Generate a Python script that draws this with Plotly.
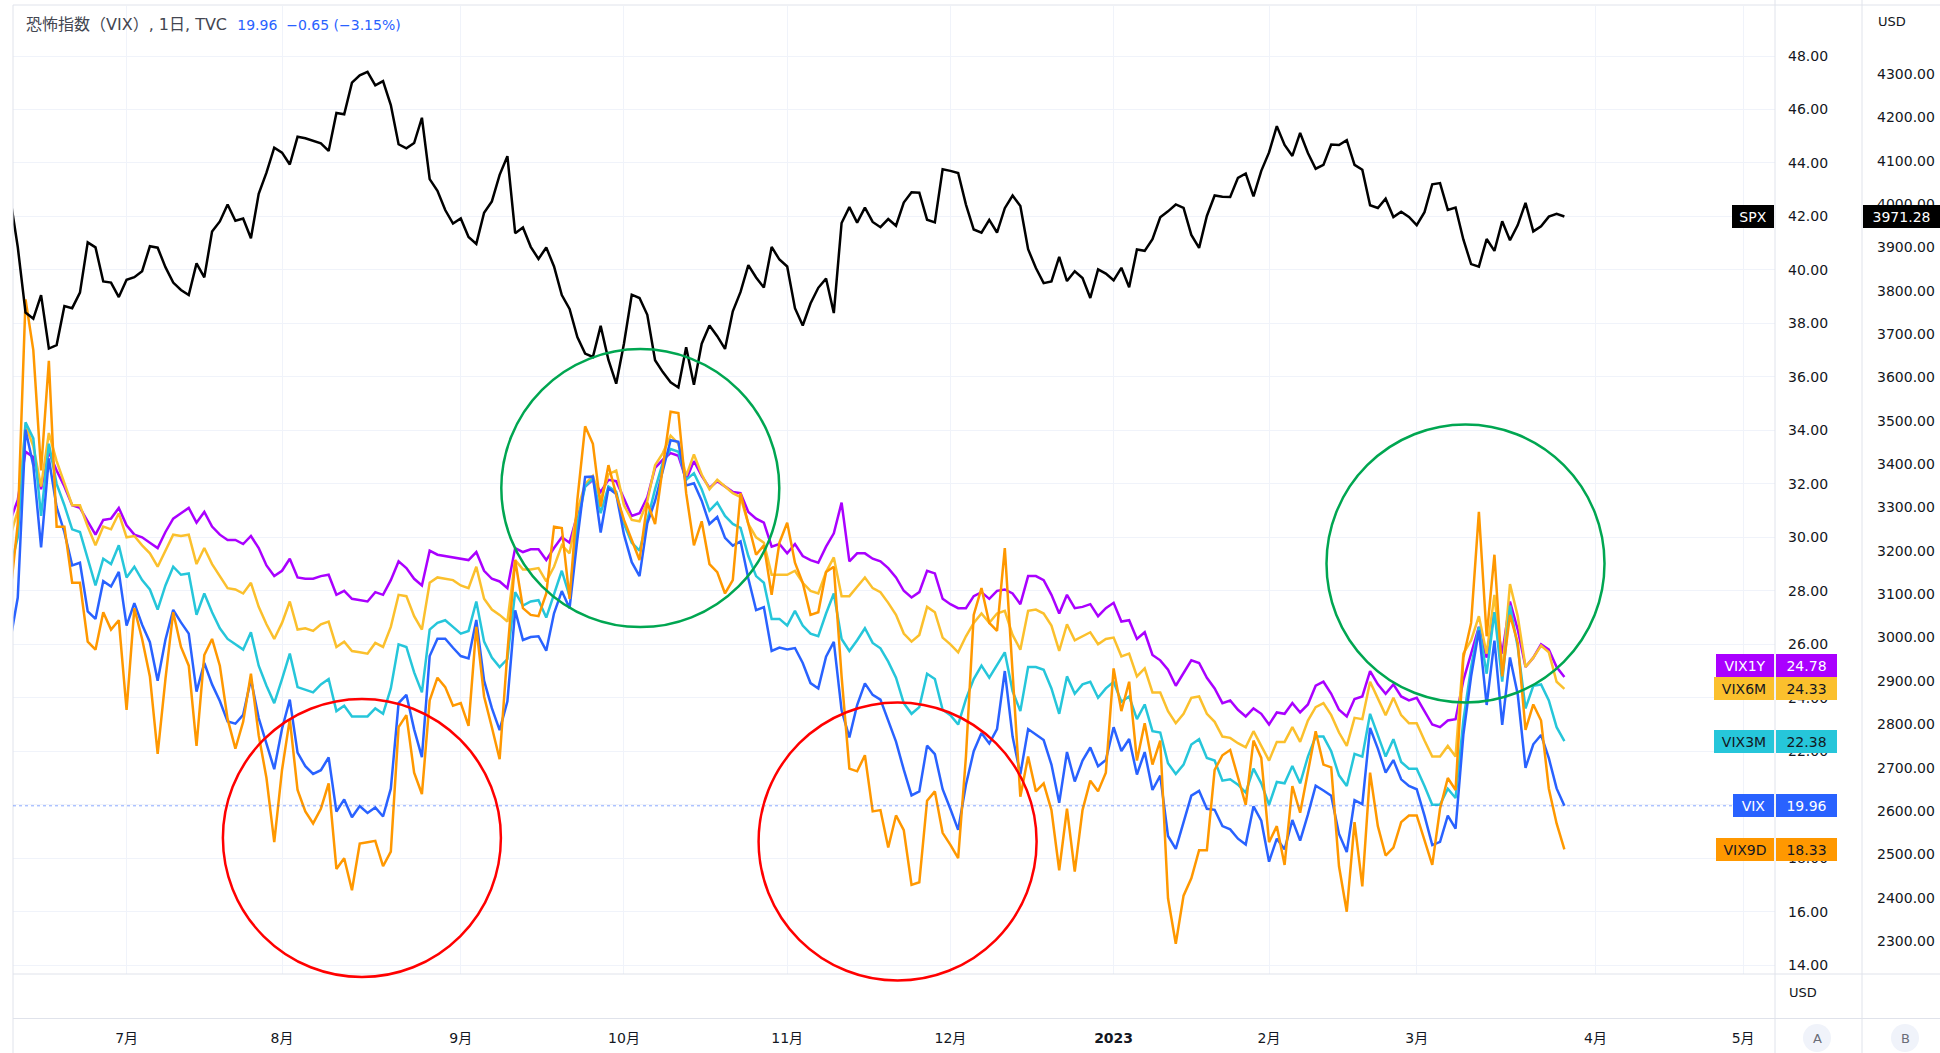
import pandas as pd
import plotly.graph_objects as go

# ---------------- data ----------------
HOLIDAYS = ["2022-06-20", "2022-07-04", "2022-09-05", "2022-11-24", "2022-12-26",
            "2023-01-02", "2023-01-16", "2023-02-20", "2023-04-07"]
DATES = pd.bdate_range("2022-06-09", "2023-03-28", freq="C", holidays=HOLIDAYS)

SPX = [
    4017.82, 3900.86, 3749.63, 3735.48, 3789.99, 3666.77, 3674.84, 3764.79, 3759.89, 3795.73, 3911.74, 3900.11, 3821.55, 3818.83, 3785.38,
    3825.33, 3831.39, 3845.08, 3902.62, 3899.38, 3854.43, 3818.80, 3801.78, 3790.38, 3863.16, 3830.85, 3936.69, 3959.90, 3998.95, 3961.63, 3966.84, 3921.05, 4023.61, 4072.43, 4130.29,
    4118.63, 4091.19, 4155.17, 4151.94, 4145.19, 4140.06, 4122.47, 4210.24, 4207.27, 4280.15, 4297.14, 4305.20, 4274.04, 4283.74, 4228.48, 4137.99, 4128.73, 4140.77, 4199.12, 4057.66, 4030.61, 3986.16, 3955.00,
    3966.85, 3924.26, 3908.19, 3979.87, 4006.18, 4067.36, 4110.41, 3932.69, 3946.01, 3901.35, 3873.33, 3899.89, 3855.93, 3789.93, 3757.99, 3693.23, 3655.04, 3647.29, 3719.04, 3640.47, 3585.62,
    3678.43, 3790.93, 3783.28, 3744.52, 3639.66, 3612.39, 3588.84, 3577.03, 3669.91, 3583.07, 3677.95, 3719.98, 3695.16, 3665.78, 3752.75, 3797.34, 3859.11, 3830.60, 3807.30, 3901.06, 3871.98,
    3856.10, 3759.69, 3719.89, 3770.55, 3806.80, 3828.11, 3748.57, 3956.37, 3992.93, 3957.25, 3991.73, 3958.79, 3946.56, 3965.34, 3949.94, 4003.58, 4027.26, 4026.12, 3963.94, 3957.63, 4080.11,
    4076.57, 4071.70, 3998.84, 3941.26, 3933.92, 3963.51, 3934.38, 3990.56, 4019.65, 3995.32, 3895.75, 3852.36, 3817.66, 3821.62, 3878.44, 3822.39, 3844.82, 3829.25, 3783.22, 3849.28, 3839.50,
    3824.14, 3852.97, 3808.10, 3895.08, 3892.09, 3919.25, 3969.61, 3983.17, 3999.09, 3990.97, 3928.86, 3898.85, 3972.61, 4019.81, 4016.95, 4016.22, 4060.43, 4070.56, 4017.77, 4076.60,
    4119.21, 4179.76, 4136.48, 4111.08, 4164.00, 4117.86, 4081.50, 4090.46, 4137.29, 4136.13, 4147.60, 4090.41, 4079.09, 3997.34, 3991.05, 4012.32, 3970.04, 3982.24, 3970.15,
    3951.39, 3981.35, 4045.64, 4048.42, 3986.37, 3992.01, 3918.32, 3861.59, 3855.76, 3919.29, 3891.93, 3960.28, 3916.64, 3951.57, 4002.87, 3936.97, 3948.72, 3970.99, 3977.53, 3971.28,
]

VIX = [
    26.09, 27.75, 34.02, 32.69, 29.62, 32.95, 31.13, 30.19, 28.95, 29.05, 27.23, 26.95, 28.36, 28.16, 28.71,
    26.70, 27.54, 26.73, 26.08, 24.64, 26.17, 27.29, 26.82, 26.40, 24.23, 25.30, 24.50, 23.88, 23.11, 23.03, 23.36, 24.69, 23.24, 22.33, 21.33,
    22.84, 23.93, 21.95, 21.44, 21.15, 21.29, 21.77, 19.74, 20.20, 19.53, 19.95, 19.69, 19.90, 19.56, 20.60, 23.80, 24.11, 22.82, 21.78, 25.56, 26.21, 26.21, 25.87,
    25.56, 25.47, 26.91, 24.64, 23.61, 22.79, 23.87, 27.27, 26.16, 26.27, 26.30, 25.76, 27.16, 27.99, 27.35, 29.92, 32.26, 32.27, 30.18, 31.84, 31.62,
    30.10, 29.07, 28.55, 30.52, 31.36, 32.45, 33.63, 33.57, 31.94, 32.02, 31.37, 30.50, 30.76, 29.98, 29.69, 29.85, 28.46, 27.28, 27.39, 25.75, 25.88,
    25.81, 25.86, 25.30, 24.55, 24.35, 25.54, 26.09, 23.53, 22.52, 23.73, 24.54, 24.11, 23.93, 23.12, 22.36, 21.31, 20.35, 20.50, 22.21, 21.89, 20.58,
    19.84, 19.06, 20.75, 22.00, 22.68, 22.29, 22.83, 25.00, 22.55, 21.14, 22.83, 22.62, 22.42, 21.50, 20.07, 21.97, 20.87, 21.65, 22.14, 21.44, 21.67,
    22.90, 22.01, 22.46, 21.13, 21.97, 20.55, 21.09, 18.83, 18.35, 19.36, 20.34, 20.52, 19.85, 19.81, 19.20, 19.08, 18.73, 18.51, 19.94, 19.40,
    17.87, 18.73, 18.33, 19.43, 18.66, 19.63, 20.71, 20.53, 20.34, 18.91, 18.23, 20.17, 20.02, 22.87, 22.10, 21.20, 21.67, 20.95, 20.70,
    20.58, 19.59, 18.49, 18.61, 19.59, 19.11, 22.61, 24.80, 26.52, 23.73, 26.14, 22.99, 25.51, 24.12, 21.38, 22.26, 22.61, 21.74, 20.61, 19.96,
]

VIX9D = [
    27.8, 30.5, 38.9, 37.0, 32.5, 36.6, 30.4, 30.4, 28.3, 28.3, 26.1, 25.8, 27.2, 26.55, 26.9, 23.55, 27.35, 26.2, 24.8, 21.9,
    24.7, 27.2, 25.9, 25.2, 22.2, 25.6, 26.2, 25.2, 23.2, 22.1, 23.1, 24.9, 22.6, 21.0,
    18.6, 21.3, 23.2, 20.55, 19.75, 19.3, 19.85, 20.8, 17.6, 18.0, 16.8, 18.55, 18.6, 18.65, 17.7, 18.25, 22.9, 23.35, 21.2, 20.4,
    23.9, 24.75, 24.4, 23.7, 23.8, 22.95, 26.65, 24.05, 22.9, 21.7, 25.7, 29.15, 27.35,
    27.1, 27.05, 27.9, 30.4, 30.35, 27.7, 31.4, 34.15, 33.5, 31.15, 32.7, 31.6, 30.65, 29.9, 29.15, 31.3, 30.5, 32.65, 34.7, 34.65,
    31.65, 29.7, 30.6, 29.0, 28.7, 27.9, 28.4, 31.65, 30.5, 29.35, 29.7, 27.85, 29.8,
    30.55, 29.05, 28.3, 27.1, 27.2, 28.7, 28.9, 24.8, 21.35, 21.25, 21.85, 19.75, 19.8, 18.4, 19.6, 19.05, 17.0, 17.1, 20.15, 20.5,
    18.95, 18.5, 18.0, 21.8, 27.1, 28.1, 26.8, 26.5, 29.6, 24.95, 20.3, 21.8,
    20.5, 20.8, 19.8, 17.55, 19.85, 17.5, 19.8, 20.9, 20.5, 21.2, 25.1, 23.5, 24.6, 21.65, 23.05, 21.5, 22.4, 16.5, 14.8, 16.6,
    17.25, 18.3, 18.3, 21.3, 21.85, 22.05, 21.0, 20.0, 22.4, 21.75, 18.6, 19.2, 17.75,
    20.7, 19.7, 21.2, 22.75, 21.5, 21.4, 17.7, 16.0, 19.35, 16.95, 21.2, 19.2, 18.1, 18.4, 19.35, 19.6, 19.6, 18.7, 17.75, 19.85,
    21.0, 20.55, 25.5, 26.8, 30.95, 26.3, 29.35, 24.8, 27.1, 26.05, 22.8, 23.75, 23.15, 20.6, 19.3, 18.33,
]

VIX3M = [
    28.8, 30.0, 34.3, 33.7, 30.8, 33.5, 32.0, 31.2, 30.3, 30.2, 29.2, 28.2, 29.2, 29.0, 29.7, 28.5, 28.9, 28.4, 28.05, 27.3,
    28.2, 28.9, 28.6, 28.65, 27.1, 27.9, 27.2, 26.6, 26.2, 26.0, 25.8, 26.45, 25.2, 24.45,
    23.8, 24.7, 25.65, 24.4, 24.3, 24.2, 24.5, 24.7, 23.5, 23.7, 23.3, 23.3, 23.3, 23.6, 23.4, 24.35, 26.0, 25.9, 24.95, 24.2,
    26.55, 26.8, 26.9, 26.65, 26.4, 26.5, 27.6, 26.1, 25.5, 25.15, 25.45, 27.95, 27.45,
    27.6, 27.65, 27.0, 27.9, 28.75, 27.8, 30.5, 31.9, 32.2, 30.9, 31.9, 31.7, 30.5, 29.8, 29.5, 30.65, 31.8, 32.8, 33.3, 33.2,
    32.15, 32.4, 31.8, 31.0, 31.3, 30.8, 30.5, 30.35, 29.3, 28.55, 28.3, 26.95, 26.95,
    26.7, 27.25, 26.7, 26.4, 26.3, 27.15, 27.9, 26.2, 25.75, 26.15, 26.6, 26.05, 25.85, 25.35, 24.75, 23.8, 23.4, 23.65, 24.9, 24.7,
    23.55, 23.35, 23.0, 23.95, 24.7, 25.2, 24.75, 25.2, 25.7, 24.25, 23.5, 25.15,
    25.15, 25.05, 24.35, 23.4, 24.8, 24.15, 24.5, 24.6, 24.0, 24.35, 24.6, 23.85, 24.05, 23.2, 23.75, 22.75, 22.7, 21.55, 21.15, 21.5,
    22.25, 22.45, 21.75, 21.65, 20.9, 20.95, 20.75, 20.45, 21.35, 20.8, 20.0, 20.85, 20.8,
    21.45, 20.8, 21.8, 22.55, 22.55, 22.0, 21.1, 20.7, 21.9, 21.8, 23.4, 22.6, 21.8, 22.45, 21.6, 21.35, 21.35, 20.7, 20.0, 20.0,
    20.6, 20.25, 23.15, 25.15, 26.65, 24.9, 27.2, 24.6, 27.45, 25.9, 23.6, 24.45, 24.5, 23.9, 22.9, 22.38,
]

VIX6M = [
    30.0, 31.0, 34.2, 33.4, 31.9, 33.9, 32.85, 32.0, 31.2, 31.2, 30.4, 29.7, 30.4, 30.3, 30.9, 30.0, 30.05, 29.7, 29.4, 28.9,
    29.5, 30.1, 30.05, 30.1, 29.0, 29.6, 29.0, 28.55, 28.1, 28.05, 27.9, 28.3, 27.4, 26.75,
    26.2, 26.8, 27.6, 26.55, 26.6, 26.5, 26.75, 26.85, 25.9, 26.1, 25.75, 25.7, 25.65, 26.05, 25.9, 26.65, 27.85, 27.8, 27.05, 26.55,
    28.3, 28.5, 28.45, 28.4, 28.2, 28.1, 28.9, 27.7, 27.3, 27.1, 26.85, 29.15, 28.8,
    28.8, 28.85, 28.35, 28.9, 29.7, 29.4, 31.0, 32.0, 32.3, 31.4, 32.35, 32.5, 31.2, 30.65, 30.6, 31.35, 32.7, 33.15, 33.8, 33.5,
    32.3, 33.1, 32.35, 31.8, 32.15, 31.9, 31.65, 31.5, 30.5, 30.0, 29.8, 28.6, 28.6,
    28.6, 28.75, 28.3, 28.0, 27.9, 28.7, 29.25, 27.8, 27.8, 28.15, 28.5, 28.1, 27.95, 27.55, 27.1, 26.4, 26.1, 26.35, 27.4, 27.2,
    26.25, 26.0, 25.7, 26.3, 26.8, 27.15, 26.8, 27.15, 27.25, 26.35, 25.8, 27.25,
    27.3, 27.15, 26.7, 25.75, 26.75, 26.15, 26.3, 26.45, 26.0, 26.2, 26.25, 25.55, 25.65, 24.8, 25.1, 24.2, 24.2, 23.5, 23.05, 23.4,
    24.0, 24.05, 23.4, 23.1, 22.55, 22.5, 22.3, 22.15, 22.75, 22.2, 21.65, 22.35, 22.35,
    22.9, 22.35, 23.15, 23.65, 23.8, 23.35, 22.7, 22.2, 23.25, 23.2, 24.6, 24.0, 23.35, 24.0, 23.35, 23.05, 23.05, 22.4, 21.8, 21.8,
    22.2, 21.8, 25.65, 26.15, 27.05, 25.65, 27.85, 24.9, 28.25, 27.05, 25.15, 25.5, 25.95, 25.7, 24.6, 24.33,
]

VIX1Y = [
    30.6, 31.4, 33.2, 33.0, 31.8, 33.2, 32.5, 31.9, 31.2, 31.1, 30.6, 30.1, 30.65, 30.7, 31.1, 30.45, 30.1, 30.0, 29.8, 29.6,
    30.2, 30.7, 30.9, 31.1, 30.55, 30.95, 30.4, 30.1, 29.9, 29.9, 29.75, 30.05, 29.6, 28.95,
    28.55, 28.75, 29.2, 28.5, 28.45, 28.45, 28.55, 28.6, 27.85, 28.0, 27.7, 27.65, 27.6, 27.95, 27.85, 28.4, 29.1, 28.85, 28.45, 28.2,
    29.5, 29.35, 29.3, 29.25, 29.2, 29.15, 29.45, 28.75, 28.45, 28.35, 28.1, 29.6, 29.45,
    29.55, 29.55, 29.15, 29.6, 30.0, 29.8, 30.9, 31.9, 32.15, 31.7, 32.15, 32.1, 31.45, 30.8, 30.9, 31.5, 32.6, 32.9, 33.15, 33.05,
    32.15, 32.85, 32.3, 31.85, 32.1, 31.9, 31.7, 31.65, 30.95, 30.7, 30.55, 29.65, 29.75,
    29.4, 29.75, 29.3, 29.15, 29.05, 29.65, 30.15, 31.3, 29.1, 29.4, 29.4, 29.2, 29.1, 28.85, 28.5, 28.0, 27.75, 27.95, 28.75, 28.65,
    27.7, 27.5, 27.35, 27.35, 27.8, 27.95, 27.7, 28.0, 28.05, 27.9, 27.5, 28.55,
    28.55, 28.4, 27.85, 27.15, 27.85, 27.35, 27.4, 27.5, 27.05, 27.35, 27.55, 26.85, 26.9, 26.2, 26.45, 25.6, 25.4, 25.05, 24.45, 24.9,
    25.4, 25.3, 24.75, 24.35, 23.8, 23.9, 23.55, 23.3, 23.6, 23.4, 23.0, 23.45, 23.4,
    23.8, 23.45, 23.75, 24.45, 24.6, 24.15, 23.55, 23.3, 23.95, 24.05, 25.0, 24.5, 24.15, 24.5, 24.05, 23.9, 24.0, 23.5, 23.0, 22.9,
    23.15, 23.2, 24.65, 25.65, 26.65, 25.5, 27.2, 25.65, 27.6, 26.55, 25.15, 25.5, 26.0, 25.8, 25.15, 24.78,
]

MONTH_TICKS = ["2022-07-01", "2022-08-01", "2022-09-01", "2022-10-03", "2022-11-01", "2022-12-01",
               "2023-01-03", "2023-02-01", "2023-03-01", "2023-04-03", "2023-05-01"]
MONTH_LABELS = ["7月", "8月", "9月", "10月", "11月", "12月", "<b>2023</b>", "2月", "3月", "4月", "5月"]
VIX_TICKS = list(range(14, 49, 2))
SPX_TICKS = list(range(2300, 4301, 100))

# ---------------- layout helpers ----------------
W, H = 1940, 1053
L, T, R, B = 13, 6, 0, 79
PW, PH = W - L - R, H - T - B
FONT = "DejaVu Sans, Noto Sans CJK JP, sans-serif"
TXT = "#131722"
GRID = "#f0f3fa"
SEP = "#e0e3eb"


def px(x):
    return (x - L) / PW


def py(y):
    return (H - B - y) / PH


def series(values, color, name, axis="y"):
    n = min(len(values), len(DATES))
    return go.Scatter(x=DATES[:n], y=values[:n], mode="lines", name=name, yaxis=axis,
                      line=dict(color=color, width=2.5), hoverinfo="skip")


COLORS = {"SPX": "#000000", "VIX1Y": "#AA00FF", "VIX6M": "#FBC02D",
          "VIX3M": "#26C6DA", "VIX": "#2962FF", "VIX9D": "#FF9800"}

fig = go.Figure()
fig.add_trace(series(SPX, COLORS["SPX"], "SPX", "y2"))
fig.add_trace(series(VIX1Y, COLORS["VIX1Y"], "VIX1Y"))
fig.add_trace(series(VIX6M, COLORS["VIX6M"], "VIX6M"))
fig.add_trace(series(VIX3M, COLORS["VIX3M"], "VIX3M"))
fig.add_trace(series(VIX, COLORS["VIX"], "VIX"))
fig.add_trace(series(VIX9D, COLORS["VIX9D"], "VIX9D"))

shapes = []
# separators / borders
for xx in (1775, 1862):
    shapes.append(dict(type="line", xref="paper", yref="paper", x0=px(xx), x1=px(xx),
                       y0=py(H), y1=py(0), line=dict(color=SEP, width=1)))
for yy in (974, 1018.5, 5):
    shapes.append(dict(type="line", xref="paper", yref="paper", x0=0, x1=1,
                       y0=py(yy), y1=py(yy), line=dict(color=SEP, width=1)))
shapes.append(dict(type="line", xref="paper", yref="paper", x0=0, x1=0,
                   y0=py(H), y1=py(5), line=dict(color=SEP, width=1)))
# last-value dotted line of VIX
shapes.append(dict(type="line", xref="x domain", yref="y", x0=0, x1=1, y0=VIX[-1], y1=VIX[-1],
                   line=dict(color="rgba(41,98,255,0.55)", width=1, dash="dot")))
# hand-drawn highlight circles (screen pixel centre, radius)
CIRCLES = [(361.9, 838.0, "#ff0000"), (897.6, 841.5, "#ff0000"),
           (640.3, 488.1, "#00a651"), (1465.5, 563.5, "#00a651")]
CR = 139
for cx, cy, col in CIRCLES:
    shapes.append(dict(type="circle", xref="paper", yref="paper",
                       x0=px(cx - CR), x1=px(cx + CR), y0=py(cy + CR), y1=py(cy - CR),
                       line=dict(color=col, width=2.5), layer="above"))
# A / B buttons
for cxp in (1817, 1905):
    shapes.append(dict(type="circle", xref="paper", yref="paper",
                       x0=px(cxp - 14), x1=px(cxp + 14), y0=py(1038 + 14), y1=py(1038 - 14),
                       fillcolor="#f0f3fa", line=dict(width=0)))

ann = []
chg = VIX[-1] - VIX[-2]
pct = chg / VIX[-2] * 100
blue_txt = f"{VIX[-1]:.2f}\u00a0\u00a0{chg:.2f} ({pct:.2f}%)".replace("-", "\u2212")
ann.append(dict(xref="paper", yref="paper", x=px(24), y=py(25), xanchor="left", yanchor="middle",
                showarrow=False, font=dict(family=FONT, size=16, color="#434651"),
                text="恐怖指数（VIX）, 1日, TVC\u00a0\u00a0"
                     f"<span style='color:#2962ff;font-size:14px'>{blue_txt}</span>"))


def plain(text, xpx, ypx, size=13, color=TXT):
    return dict(xref="paper", yref="paper", x=px(xpx), y=py(ypx), xanchor="center",
                yanchor="middle", showarrow=False, text=text,
                font=dict(family=FONT, size=size, color=color))


ann.append(plain("USD", 1892, 22))
ann.append(plain("USD", 1803, 992))
ann.append(plain("A", 1817, 1038, 13, "#6a6d78"))
ann.append(plain("B", 1905, 1038, 13, "#6a6d78"))


def tag(text, xpx, anchor, yval, yref, bg, fg, w, yshift=0):
    return dict(text=text, xref="paper", x=px(xpx), xanchor=anchor, y=yval, yref=yref,
                yanchor="middle", yshift=yshift, showarrow=False, bgcolor=bg, bordercolor=bg,
                borderwidth=0, borderpad=0, width=w, height=23, align="center",
                font=dict(family=FONT, size=14, color=fg))


LABELS = [("VIX1Y", VIX1Y[-1], "#ffffff", 58, 11), ("VIX6M", VIX6M[-1], TXT, 60, 0),
          ("VIX3M", VIX3M[-1], TXT, 60, 0), ("VIX", VIX[-1], "#ffffff", 41, 0),
          ("VIX9D", VIX9D[-1], TXT, 58, 0)]
for name, val, fg, w, ys in LABELS:
    ann.append(tag(name, 1774, "right", val, "y", COLORS[name], fg, w, ys))
    ann.append(tag(f"{val:.2f}", 1776, "left", val, "y", COLORS[name], fg, 61, ys))
ann.append(tag("SPX", 1774, "right", SPX[-1], "y2", "#000000", "#ffffff", 42))
ann.append(tag(f"{SPX[-1]:.2f}", 1863, "left", SPX[-1], "y2", "#000000", "#ffffff", 77))

fig.update_layout(
    template="none",
    width=W, height=H,
    margin=dict(l=L, r=R, t=T, b=B, pad=0),
    paper_bgcolor="#ffffff", plot_bgcolor="#ffffff",
    showlegend=False, hovermode=False,
    font=dict(family=FONT, size=14, color=TXT),
    xaxis=dict(type="date", domain=[0, px(1775)],
               range=["2022-06-09 09:16", "2023-05-05 02:24"],
               rangebreaks=[dict(bounds=["sat", "mon"]), dict(values=HOLIDAYS)],
               tickmode="array", tickvals=MONTH_TICKS, ticktext=MONTH_LABELS,
               showgrid=True, gridcolor=GRID, gridwidth=1, zeroline=False, showline=False,
               ticks="", ticklabelstandoff=54, automargin=False,
               tickfont=dict(family=FONT, size=14, color=TXT)),
    yaxis=dict(range=[13.67, 49.87], side="right", anchor="x",
               tickmode="array", tickvals=VIX_TICKS, tickformat=".2f",
               showgrid=True, gridcolor=GRID, gridwidth=1, zeroline=False, showline=False,
               ticks="", ticklabelstandoff=12, automargin=False,
               tickfont=dict(family=FONT, size=14, color=TXT)),
    yaxis2=dict(range=[2223.9, 4456.9], side="right", overlaying="y", anchor="free",
                position=px(1862), tickmode="array", tickvals=SPX_TICKS, tickformat=".2f",
                showgrid=False, zeroline=False, showline=False, ticks="",
                ticklabelstandoff=14, automargin=False,
                tickfont=dict(family=FONT, size=14, color=TXT)),
    shapes=shapes,
    annotations=ann,
)

fig.write_html("out.html", config={"displayModeBar": False},
               post_script="document.body.style.margin='0px';document.body.style.overflow='hidden';")
